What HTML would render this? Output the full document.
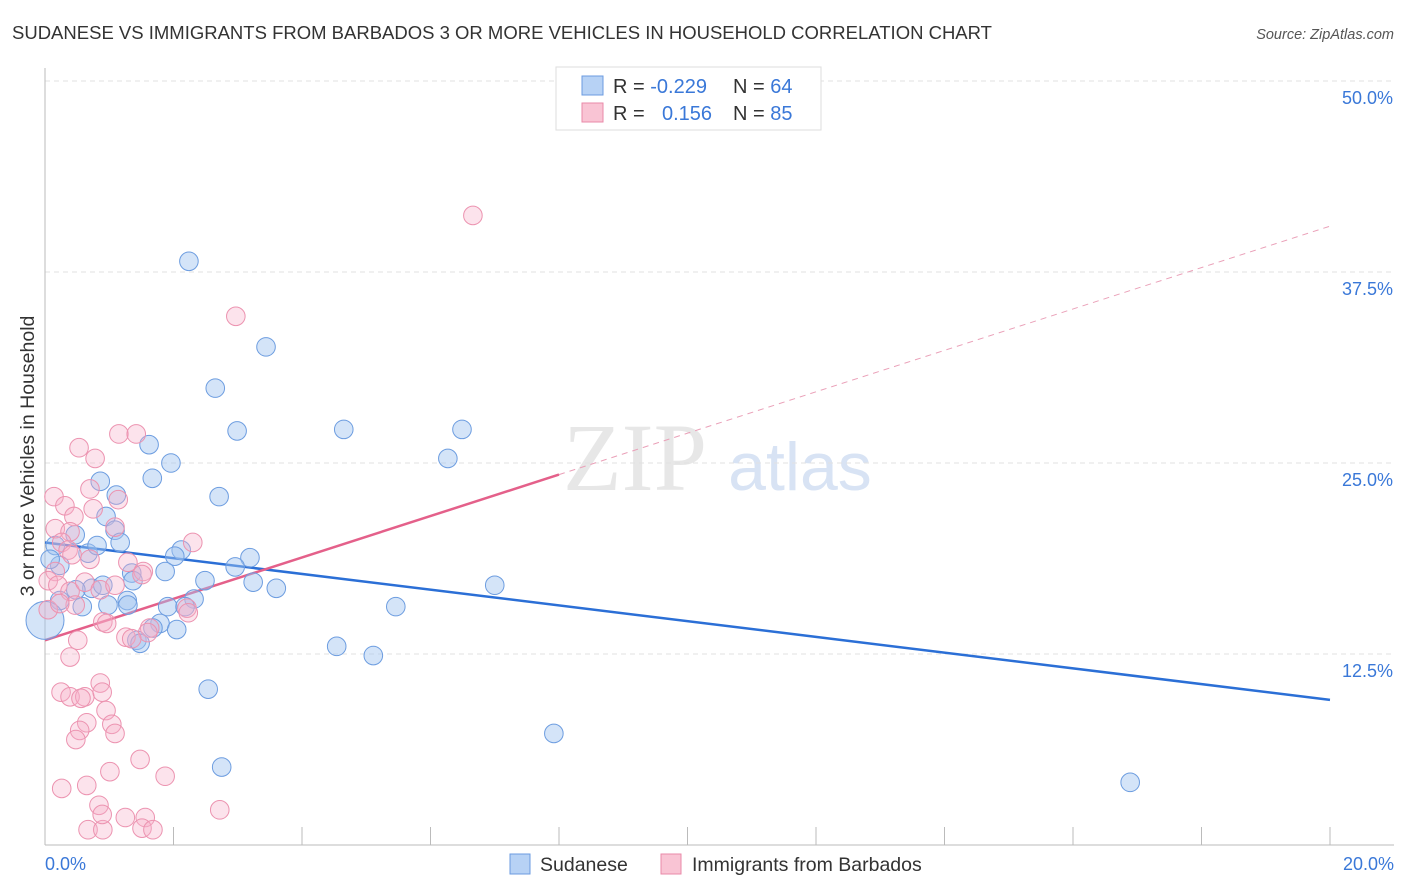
<!DOCTYPE html>
<html><head><meta charset="utf-8"><style>
body{margin:0;background:#fff;font-family:"Liberation Sans",sans-serif}
svg{display:block}
</style></head><body>
<svg id="chart" width="1406" height="892">
<text x="12" y="39" font-size="18.5" fill="#333">SUDANESE VS IMMIGRANTS FROM BARBADOS 3 OR MORE VEHICLES IN HOUSEHOLD CORRELATION CHART</text>
<text x="1394" y="39" font-size="14.5" fill="#555" font-style="italic" text-anchor="end">Source: ZipAtlas.com</text>
<text x="34" y="456" font-size="19.5" fill="#333" text-anchor="middle" transform="rotate(-90 34 456)">3 or more Vehicles in Household</text>
<g><text x="635" y="490" font-size="96" fill="#ddd" font-family="Liberation Serif,serif" text-anchor="middle" opacity="0.7">ZIP</text><text x="800" y="490" font-size="68" fill="#c8d8f0" text-anchor="middle" opacity="0.7">atlas</text></g>
<g id="grid"></g><g id="axes"></g><g id="lines"></g><g id="pts"></g>
<g>
<rect x="556" y="67" width="265" height="63" fill="#fff" stroke="#ddd"/>
<rect x="582" y="76" width="21" height="19" fill="#b7d2f5" stroke="#6b9be0"/>
<rect x="582" y="103" width="21" height="19" fill="#f9c4d4" stroke="#e98aa8"/>
<text x="613" y="93" font-size="20" fill="#333">R = <tspan fill="#3a78d8">-0.229</tspan><tspan x="733">N = </tspan><tspan fill="#3a78d8">64</tspan></text>
<text x="613" y="120" font-size="20" fill="#333">R = <tspan x="662" fill="#3a78d8">0.156</tspan><tspan x="733">N = </tspan><tspan fill="#3a78d8">85</tspan></text>
</g>
<g>
<rect x="510" y="854" width="20" height="20" fill="#b7d2f5" stroke="#6b9be0"/>
<text x="540" y="871" font-size="19.5" fill="#333">Sudanese</text>
<rect x="661" y="854" width="20" height="20" fill="#f9c4d4" stroke="#e98aa8"/>
<text x="692" y="871" font-size="19.5" fill="#333">Immigrants from Barbados</text>
</g>
</svg>
<script>
const yTicks=[12.5,25,37.5,50];
const yTickLabels=["12.5%","25.0%","37.5%","50.0%"];
const xTickVals=[0,2,4,6,8,10,12,14,16,18,20];
const blueX=[2.24,3.44,2.65,2.99,4.65,6.49,6.27,1.62,1.96,1.67,0.86,1.11,2.71,0.95,1.09,1.17,0.47,0.67,0.81,0.16,0.23,2.12,2.02,3.19,2.96,1.87,1.35,1.37,2.49,3.24,3.60,7.00,0.73,0.48,0.90,1.28,1.29,0.98,0.58,2.32,1.91,2.18,1.79,1.68,2.05,1.43,1.48,4.54,5.11,2.54,7.92,2.75,16.89,5.46,0.08,0.23,0.0];
const blueY=[38.2,32.6,29.9,27.1,27.2,27.2,25.3,26.2,25.0,24.0,23.8,22.9,22.8,21.5,20.6,19.8,20.3,19.1,19.6,19.6,18.3,19.3,18.9,18.8,18.2,17.9,17.8,17.3,17.3,17.2,16.8,17.0,16.8,16.7,17.0,16.0,15.7,15.7,15.6,16.1,15.6,15.6,14.5,14.2,14.1,13.4,13.2,13.0,12.4,10.2,7.3,5.1,4.1,15.6,18.7,16.0,14.7];
const blueBig=[0,0,0,0,0,0,0,0,0,0,0,0,0,0,0,0,0,0,0,0,0,0,0,0,0,0,0,0,0,0,0,0,0,0,0,0,0,0,0,0,0,0,0,0,0,0,0,0,0,0,0,0,0,0,0,0,1];
const pinkX=[6.66,2.97,0.53,1.15,1.42,0.78,0.70,0.14,0.31,0.45,0.75,1.14,0.16,0.39,1.09,2.30,0.26,0.36,0.42,0.70,1.29,1.53,0.16,0.05,0.20,0.39,0.62,0.86,1.09,0.47,0.05,0.23,1.51,1.63,1.60,2.21,2.23,0.90,0.96,1.26,1.35,0.51,0.39,0.86,0.25,0.39,0.62,0.56,0.89,0.95,0.65,1.04,1.09,0.54,0.48,1.48,1.01,1.87,0.26,0.65,0.84,0.67,0.90,0.89,1.25,1.56,1.51,1.68,2.72];
const pinkY=[41.2,34.6,26.0,26.9,26.9,25.3,23.3,22.8,22.2,21.5,22.0,22.6,20.7,20.5,20.8,19.8,19.8,19.3,19.0,18.7,18.5,17.9,17.9,17.3,17.0,16.6,17.2,16.7,17.0,15.7,15.4,15.8,17.7,14.2,13.9,15.5,15.2,14.6,14.5,13.6,13.5,13.4,12.3,10.6,10.0,9.7,9.7,9.6,10.0,8.8,8.0,7.9,7.3,7.5,6.9,5.6,4.8,4.5,3.7,3.9,2.6,1.0,1.0,2.0,1.8,1.8,1.1,1.0,2.3];
const blueFit=[19.8,9.5];
const pinkFit=[13.4,40.5];
const pinkSolidEnd=8.0;

const NS="http://www.w3.org/2000/svg";
const X=v=>45+v*64.25, Y=v=>845-v*15.28;
function mk(tag,attrs,parent){const e=document.createElementNS(NS,tag);for(const k in attrs)e.setAttribute(k,attrs[k]);parent.appendChild(e);return e;}
const grid=document.getElementById('grid'),axes=document.getElementById('axes'),lines=document.getElementById('lines'),pts=document.getElementById('pts');
yTicks.forEach((t,i)=>{
 const l=mk('line',{x1:45,x2:1394,y1:Y(t),y2:Y(t),stroke:'#e2e2e2','stroke-dasharray':'5,4'},grid);
 
 
 const tx=mk('text',{x:1393,y:Y(t)+23,'font-size':18,fill:'#3a78d8','text-anchor':'end'},grid);
 tx.textContent=yTickLabels[i];
 
 
});
const ax=mk('line',{x1:45,x2:1394,y1:845,y2:845,stroke:'#bbb'},axes);


const ay=mk('line',{x1:45,x2:45,y1:68,y2:845,stroke:'#bbb'},axes);


xTickVals.forEach(t=>{
 const l=mk('line',{x1:X(t),x2:X(t),y1:827,y2:845,stroke:'#bbb'},axes);
 
 
});
const x0=mk('text',{x:45,y:870,'font-size':18,fill:'#3a78d8'},axes);x0.textContent='0.0%';


const x1=mk('text',{x:1394,y:870,'font-size':18,fill:'#3a78d8','text-anchor':'end'},axes);x1.textContent='20.0%';


function pt(xs,ys,fill,stroke,name,big){
 xs.forEach((x,i)=>{
  const c=mk('circle',{cx:X(x),cy:Y(ys[i]),r:big&&big[i]?19:9.3,fill:fill,stroke:stroke,'stroke-width':1},pts);
  
  
 });
}
pt(blueX,blueY,'rgba(160,196,240,0.45)','#6d9de0','sudanese-point',blueBig);
pt(pinkX,pinkY,'rgba(246,176,200,0.35)','#ec93b0','barbados-point',null);
const py=v=>pinkFit[0]+(pinkFit[1]-pinkFit[0])*v/20;
const bl=mk('line',{x1:X(0),y1:Y(blueFit[0]),x2:X(20),y2:Y(blueFit[1]),stroke:'#2b6fd6','stroke-width':2.5},lines);


const pl=mk('line',{x1:X(0),y1:Y(py(0)),x2:X(pinkSolidEnd),y2:Y(py(pinkSolidEnd)),stroke:'#e4608a','stroke-width':2.5},lines);


const pd=mk('line',{x1:X(pinkSolidEnd),y1:Y(py(pinkSolidEnd)),x2:X(20),y2:Y(py(20)),stroke:'#eaa0b8','stroke-width':1,'stroke-dasharray':'6,5'},lines);


</script>
</body></html>
